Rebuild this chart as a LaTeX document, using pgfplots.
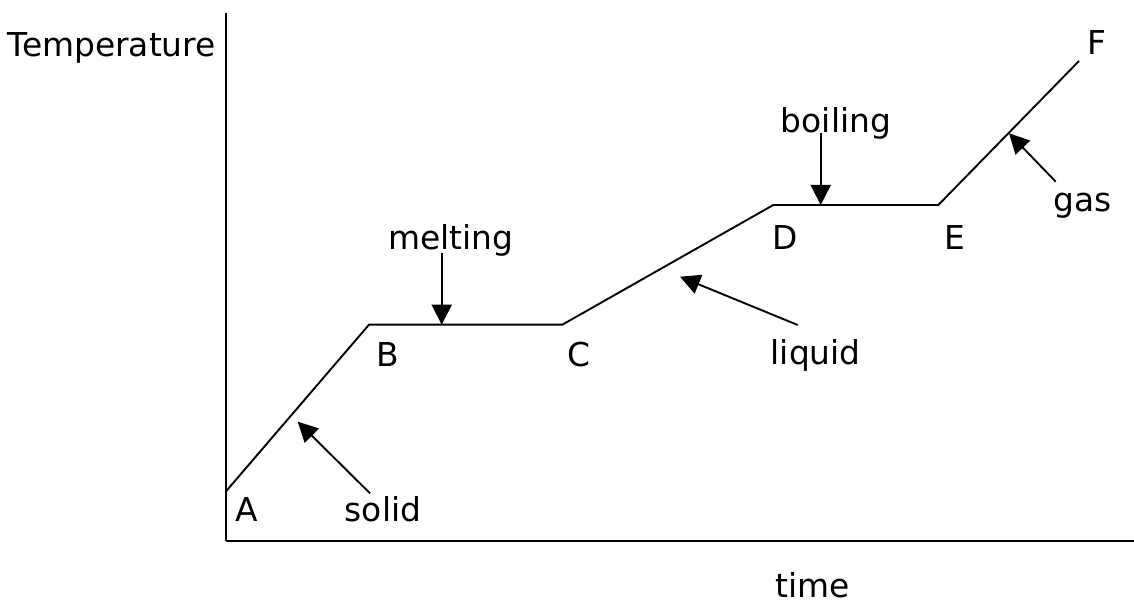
\documentclass[border=0pt]{standalone}
\usepackage{fontspec}
\setmainfont{DejaVu Sans}
\usepackage{pgfplots}
\pgfplotsset{compat=1.18}
\usetikzlibrary{arrows.meta}
\tikzset{lab/.style={anchor=base, inner sep=0pt, font=\fontsize{33}{40}\selectfont},
  arr/.style={line width=1.9bp, -{Triangle[length=20bp,width=20bp]}}}
\begin{document}
\begin{tikzpicture}[x=1bp,y=1bp]
\path[use as bounding box] (0,0) rectangle (1134,604);
\begin{axis}[
  at={(225.7bp,63bp)}, anchor=south west,
  scale only axis, width=908.3bp, height=528bp,
  xmin=225.7, xmax=1134, ymin=63, ymax=591,
  axis lines=left, axis line style={-, line width=1.9bp, black},
  ticks=none, clip=false,
]
\addplot[black, line width=1.9bp] coordinates {
  (225.7,112.3) (369,279.3) (562.3,279.3) (773.3,399) (938.3,399) (1079,543)
};
% arrows (pixel coords -> y = 604 - py)
\draw[arr] (axis cs:370,110.7) -- (axis cs:297.7,182.3);
\draw[arr] (axis cs:441.7,351) -- (axis cs:441.7,279.3);
\draw[arr] (axis cs:797.7,279) -- (axis cs:680,327.3);
\draw[arr] (axis cs:820.7,471) -- (axis cs:820.7,399);
\draw[arr] (axis cs:1055.7,422.3) -- (axis cs:1009,470.7);
% labels
\node[lab, anchor=base east] at (axis cs:216,547) {Temperature};
\node[lab] at (axis cs:813,6) {time};
\node[lab] at (axis cs:246.7,82.3) {A};
\node[lab] at (axis cs:387.7,237.3) {B};
\node[lab] at (axis cs:579,237.3) {C};
\node[lab] at (axis cs:785,354) {D};
\node[lab] at (axis cs:955,354) {E};
\node[lab] at (axis cs:1096.7,549) {F};
\node[lab] at (axis cs:383,82.3) {solid};
\node[lab] at (axis cs:451,354) {melting};
\node[lab] at (axis cs:815.7,239) {liquid};
\node[lab] at (axis cs:836,471) {boiling};
\node[lab] at (axis cs:1082.3,392.3) {gas};
\end{axis}
\end{tikzpicture}
\end{document}
